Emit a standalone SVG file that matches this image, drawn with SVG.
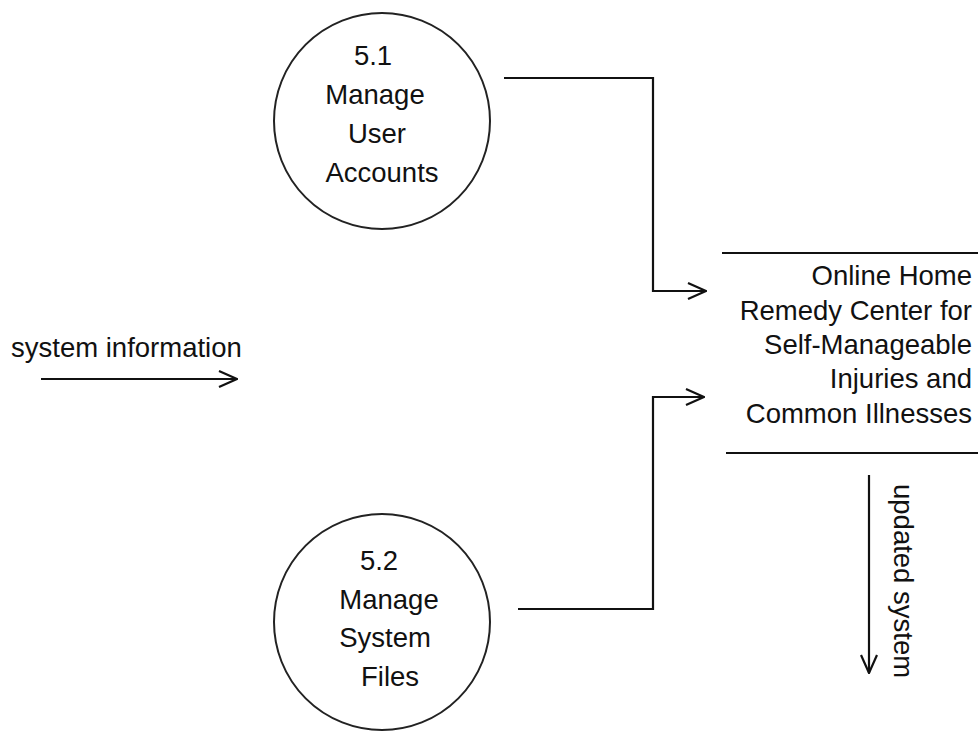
<svg xmlns="http://www.w3.org/2000/svg" width="978" height="732" viewBox="0 0 978 732">
<defs>
<marker id="arr" markerUnits="userSpaceOnUse" viewBox="0 0 20 18" refX="19" refY="9" markerWidth="20" markerHeight="18" orient="auto">
<path d="M1,1 L19,9 L1,17" fill="none" stroke="#111" stroke-width="2.2"/>
</marker>
<style>
text{font-family:"Liberation Sans",Arial,sans-serif;font-size:27.5px;fill:#111}
.c{text-anchor:middle}
.r{text-anchor:end}
.node{fill:#fff;stroke:#222;stroke-width:2}
.line{fill:none;stroke:#111;stroke-width:2.2}
.flow{fill:none;stroke:#111;stroke-width:2.2;marker-end:url(#arr)}
</style>
</defs>
<rect width="978" height="732" fill="#fff"/>
<g id="p51">
<circle class="node" cx="382" cy="121" r="108"/>
<text class="c" x="373" y="65">5.1</text>
<text class="c" x="375" y="104">Manage</text>
<text class="c" x="377" y="143">User</text>
<text class="c" x="382" y="182">Accounts</text>
</g>
<g id="p52">
<circle class="node" cx="382" cy="622" r="108"/>
<text class="c" x="379" y="570">5.2</text>
<text class="c" x="389" y="609">Manage</text>
<text class="c" x="385" y="647">System</text>
<text class="c" x="390" y="686">Files</text>
</g>
<g id="store">
<line class="line" x1="722" y1="253" x2="978" y2="253"/>
<line class="line" x1="726" y1="453" x2="978" y2="453"/>
<text class="r" x="972" y="285">Online Home</text>
<text class="r" x="972" y="320">Remedy Center for</text>
<text class="r" x="972" y="354">Self-Manageable</text>
<text class="r" x="972" y="388">Injuries and</text>
<text class="r" x="972" y="423">Common Illnesses</text>
</g>
<g id="connectors">
<path class="flow" d="M504,78 H653 V291 H706"/>
<path class="flow" d="M518,609 H653 V397 H704"/>
<path class="flow" d="M41,379 H237"/>
<path class="flow" d="M869,475 V673"/>
<text x="11" y="357">system information</text>
<text transform="translate(894,484) rotate(90)">updated system</text>
</g>
</svg>
